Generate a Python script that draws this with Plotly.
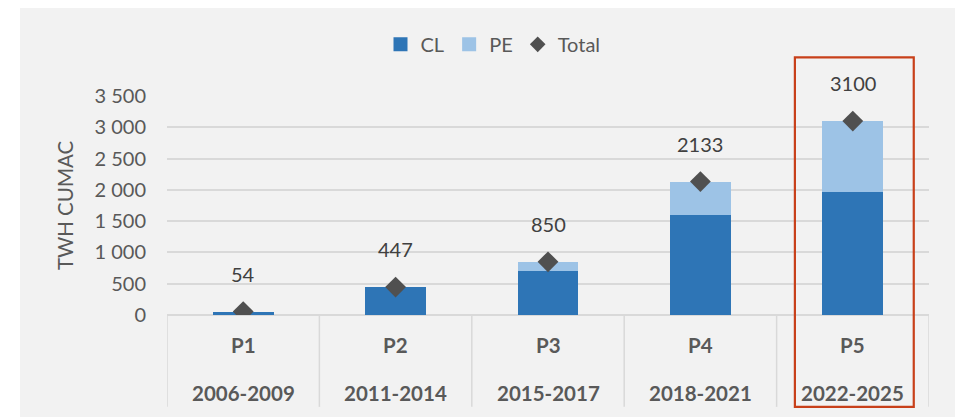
import plotly.graph_objects as go

periods = ["P1", "P2", "P3", "P4", "P5"]
years = ["2006-2009", "2011-2014", "2015-2017", "2018-2021", "2022-2025"]
cl_values = [54, 447, 700, 1600, 1970]
pe_values = [0, 0, 150, 533, 1130]
totals = [54, 447, 850, 2133, 3100]
highlight = "P5"

FONT = "Lato"
TXT = "#595959"
CL_C = "#2E75B6"
PE_C = "#9DC3E6"
DIA_C = "#505050"
GRID = "#D9D9D9"
BOX_C = "#C8401A"
BG = "#F2F2F2"

# page is rendered with an 8px body margin; figure sized to fill the rest
OFF = 8
W, H = 963 - OFF, 417 - OFF
PLOT_L, PLOT_R, PLOT_T, PLOT_B = 167, 929, 95.7, 315  # page coordinates
ML, MR, MT = PLOT_L - OFF, (W + OFF) - PLOT_R, PLOT_T - OFF
PH = PLOT_B - PLOT_T
MB = H - MT - PH
PW = PLOT_R - PLOT_L


def py(page_y):
    return (PLOT_B - page_y) / PH


def px(page_x):
    return (page_x - PLOT_L) / PW


fig = go.Figure()
fig.add_trace(go.Bar(x=periods, y=cl_values, name="CL", showlegend=False,
                     marker=dict(color=CL_C, line=dict(width=0))))
fig.add_trace(go.Bar(x=periods, y=pe_values, name="PE", showlegend=False,
                     marker=dict(color=PE_C, line=dict(width=0))))
fig.add_trace(go.Scatter(x=periods, y=totals, name="Total", mode="markers", showlegend=False,
                         marker=dict(symbol="diamond", size=16, color=DIA_C)))
# legend entries
fig.add_trace(go.Scatter(x=[None], y=[None], name="CL", mode="markers",
                         marker=dict(symbol="square", size=14, color=CL_C)))
fig.add_trace(go.Scatter(x=[None], y=[None], name="PE", mode="markers",
                         marker=dict(symbol="square", size=14, color=PE_C)))
fig.add_trace(go.Scatter(x=[None], y=[None], name="Total", mode="markers",
                         marker=dict(symbol="diamond", size=12, color=DIA_C)))

annotations = []
for p, t in zip(periods, totals):
    annotations.append(dict(x=p, y=t, xref="x", yref="y", text=str(t), showarrow=False,
                            yshift=38, font=dict(family=FONT, size=20, color="#404040")))
for p, yr in zip(periods, years):
    annotations.append(dict(x=p, y=py(345), xref="x", yref="paper", text="<b>%s</b>" % p,
                            showarrow=False, yanchor="middle", font=dict(family=FONT, size=20.5, color=TXT)))
    annotations.append(dict(x=p, y=py(393), xref="x", yref="paper", text="<b>%s</b>" % yr,
                            showarrow=False, yanchor="middle", font=dict(family=FONT, size=20.5, color=TXT)))

shapes = []
shapes.append(dict(type="rect", xref="paper", yref="paper", layer="below",
                   x0=px(20), x1=px(958), y0=py(420), y1=py(5),
                   fillcolor=BG, line=dict(width=0)))
for i in range(len(periods) + 1):
    shapes.append(dict(type="line", xref="x", yref="paper", x0=i - 0.5, x1=i - 0.5,
                       y0=0, y1=py(407), line=dict(color=GRID, width=1.5)))
hi = periods.index(highlight)
shapes.append(dict(type="rect", xref="x", yref="paper", x0=hi - 0.38, x1=hi + 0.40,
                   y0=py(407), y1=py(57), line=dict(color=BOX_C, width=2.2)))

fig.update_layout(
    width=W, height=H, barmode="stack", bargap=0.6,
    margin=dict(l=ML, r=MR, t=MT, b=MB),
    paper_bgcolor="white", plot_bgcolor="rgba(0,0,0,0)",
    separators=". ",
    font=dict(family=FONT, size=20, color=TXT),
    showlegend=True,
    legend=dict(orientation="h", x=px(493), xanchor="center", y=py(44), yanchor="middle",
                font=dict(family=FONT, size=20, color=TXT), itemwidth=30,
                bgcolor="rgba(0,0,0,0)", traceorder="normal"),
    annotations=annotations, shapes=shapes,
)
fig.update_xaxes(range=[-0.5, 4.5], showticklabels=False, showgrid=False, zeroline=False,
                 showline=False, fixedrange=True)
fig.update_yaxes(range=[0, 3500], dtick=500, tickformat=",d", showgrid=True, gridcolor=GRID,
                 gridwidth=1.5, zeroline=True, zerolinecolor=GRID, zerolinewidth=1.5,
                 showline=False, ticklabelstandoff=20,
                 tickfont=dict(family=FONT, size=20, color=TXT),
                 title=dict(text="TWH CUMAC", standoff=15, font=dict(family=FONT, size=20.5, color=TXT)),
                 automargin=False)

fig.write_html("out.html")
